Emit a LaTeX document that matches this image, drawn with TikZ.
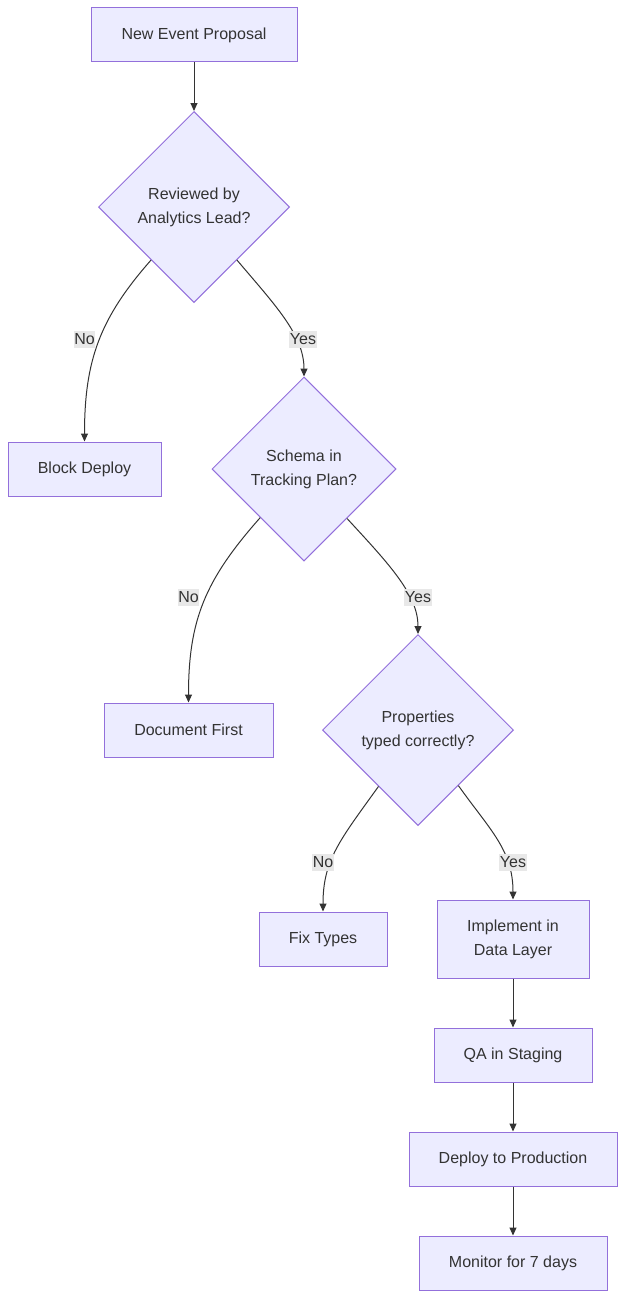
\documentclass[tikz,border=0pt]{standalone}
\usepackage{fontspec}
\setmainfont{Liberation Sans}
\usetikzlibrary{shapes.geometric,arrows.meta}
\definecolor{nodefill}{HTML}{ECECFF}
\definecolor{nodeline}{HTML}{9370DB}
\definecolor{edgecol}{HTML}{333333}
\definecolor{labelbg}{HTML}{E8E8E8}
\tikzset{
  box/.style={draw=nodeline, fill=nodefill, line width=1pt, inner sep=0pt, minimum height=54pt, text=edgecol, align=center, font=\fontsize{16}{24}\selectfont},
  decision/.style={diamond, aspect=1, draw=nodeline, fill=nodefill, line width=1pt, inner sep=0pt, text=edgecol, align=center, font=\fontsize{16}{24}\selectfont},
  conn/.style={draw=edgecol, line width=1pt, -{Triangle[length=8pt,width=7pt]}},
  lbl/.style={fill=labelbg, text=edgecol, inner xsep=0.5pt, inner ysep=3pt, font=\fontsize{16}{18}\selectfont}
}
\begin{document}
\begin{tikzpicture}[x=1pt,y=-1pt]
\useasboundingbox (0,0) rectangle (625,1298);
\node[box, minimum width=206pt] (A) at (194,35) {New Event Proposal};
\node[decision, minimum size=191pt] (B) at (194,207) {Reviewed by\\Analytics Lead?};
\node[box, minimum width=153pt] (C) at (84.5,469) {Block Deploy};
\node[decision, minimum size=184pt] (D) at (304,469) {Schema in\\Tracking Plan?};
\node[box, minimum width=169pt] (E) at (188.5,730) {Document First};
\node[decision, minimum size=191pt] (F) at (418,730) {Properties\\typed correctly?};
\node[box, minimum width=128pt] (G) at (323,939) {Fix Types};
\node[box, minimum width=152pt, minimum height=78pt] (H) at (513,939) {Implement in\\Data Layer};
\node[box, minimum width=158pt] (I) at (513,1055) {QA in Staging};
\node[box, minimum width=208pt] (J) at (513,1159) {Deploy to Production};
\node[box, minimum width=188pt] (K) at (513,1263) {Monitor for 7 days};

\draw[conn] (A) -- (B);
\draw[conn] (B.-129) .. controls (100,318) and (84.5,360) .. (C.north);
\draw[conn] (B.-51) .. controls (275,305) and (304,335) .. (D.north);
\draw[conn] (D.-132) .. controls (205,580) and (188.5,620) .. (E.north);
\draw[conn] (D.-49) .. controls (390,565) and (418,595) .. (F.north);
\draw[conn] (F.-125) .. controls (340,840) and (323,860) .. (G.north);
\draw[conn] (F.-54) .. controls (490,830) and (513,850) .. (H.north);
\draw[conn] (H) -- (I);
\draw[conn] (I) -- (J);
\draw[conn] (J) -- (K);

\node[lbl] (l1) at (84.5,339.5) {No};
\node[lbl] (l2) at (303,339.5) {Yes};
\node[lbl] (l3) at (188.5,597.5) {No};
\node[lbl] (l4) at (418,597.5) {Yes};
\node[lbl] (l5) at (323,862.5) {No};
\node[lbl] (l6) at (513,862.5) {Yes};
\end{tikzpicture}
\end{document}
